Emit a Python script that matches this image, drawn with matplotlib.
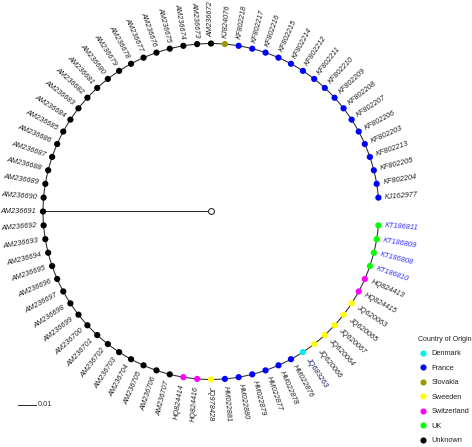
import numpy as np
import matplotlib
matplotlib.use("Agg")
import matplotlib.pyplot as plt
from matplotlib.lines import Line2D

plt.rcParams['font.family'] = ['Liberation Sans', 'DejaVu Sans']

# Tips in tree order (counter-clockwise, starting just above the gap on the right)
tips = (["KJ162977", "KF802204", "KF802205", "KF802213", "KF802203", "KF802206",
         "KF802207", "KF802208", "KF802209", "KF802210", "KF802211", "KF802212",
         "KF802214", "KF802215", "KF802216", "KF802217", "KF802218", "KJ824076"]
        + ["AM2366%02d" % n for n in range(72, 100)]
        + ["AM2367%02d" % n for n in range(0, 8)]
        + ["HQ824414", "HQ824416", "JQ978428", "HM022881", "HM022880", "HM022879",
           "HM022877", "HM022878", "HM022876", "JQ683263", "JQ620066", "JQ620064",
           "JQ620067", "JQ620065", "JQ620063", "HQ824415", "HQ824413", "KT186810",
           "KT186808", "KT186809", "KT186811"])

country_runs = [("France", 17), ("Slovakia", 1), ("Unknown", 36),
                ("Switzerland", 2), ("Sweeden", 1), ("France", 6), ("Denmark", 1),
                ("Sweeden", 5), ("Switzerland", 2), ("UK", 4)]
countries = [c for c, n in country_runs for _ in range(n)]

# branch lengths (substitutions/site)
root_branch = 0.0949
tip_branch = [0.0] * len(tips)

legend_order = ["Denmark", "France", "Slovakia", "Sweeden", "Switzerland", "UK", "Unknown"]
palette = {"Denmark": "#00EEEE", "France": "#0000FF", "Slovakia": "#999900",
           "Sweeden": "#FFFF00", "Switzerland": "#FF00FF", "UK": "#00FF00",
           "Unknown": "#000000"}
label_colors = {"KT186810": "#3333FF", "KT186808": "#3333FF", "KT186809": "#3333FF",
                "KT186811": "#3333FF", "JQ683263": "#1c1c66"}

W, H, DPI = 472, 447, 100
fig = plt.figure(figsize=(W / DPI, H / DPI), dpi=DPI)
ax = fig.add_axes([0, 0, 1, 1])
u = 0.01 / 17.7  # data units per pixel
cx, cy = 211, 211.5
ax.set_xlim(-cx * u, (W - cx) * u)
ax.set_ylim(-(H - cy) * u, cy * u)
ax.axis('off')

n = len(tips)
slots = n + 1
ydx = np.arange(1, n + 1)
theta = np.deg2rad(360.0 * ydx / slots)
r_tip = root_branch + np.array(tip_branch)

lc = '#2a2a2a'
lw = 0.75
# root branch
theta_node = np.deg2rad(360.0 * ydx.mean() / slots)
ax.plot([0, root_branch * np.cos(theta_node)], [0, root_branch * np.sin(theta_node)],
        color=lc, lw=lw, zorder=1)
# arc
arc = np.linspace(theta[0], theta[-1], 600)
ax.plot(root_branch * np.cos(arc), root_branch * np.sin(arc), color=lc, lw=lw, zorder=1)
# root node
ax.scatter([0], [0], s=18, facecolor='white', edgecolor='#333333', linewidth=0.8, zorder=3)

# tips
xs = r_tip * np.cos(theta)
ys = r_tip * np.sin(theta)
ax.scatter(xs, ys, s=20, c=[palette[c] for c in countries], linewidths=0, zorder=3)

off = 0.0038
for name, t, r in zip(tips, theta, r_tip):
    deg = np.rad2deg(t)
    lx, ly = (r + off) * np.cos(t), (r + off) * np.sin(t)
    if 90 < deg < 270:
        rot, ha = deg + 180, 'right'
    else:
        rot, ha = deg, 'left'
    ax.text(lx, ly, name, rotation=rot, rotation_mode='anchor', ha=ha, va='center',
            fontsize=5.3, fontstyle='italic', color=label_colors.get(name, '#222222'))

# scale bar
sx, sy = (18 - cx) * u, (cy - 405) * u
ax.plot([sx, sx + 0.01], [sy, sy], color='#333333', lw=0.75)
ax.text(sx + 0.01 + 2 * u, sy, "0.01", fontsize=5.3, va='center', ha='left', color='#333333')

handles = [Line2D([0], [0], marker='o', linestyle='none', markersize=4.4,
                  markerfacecolor=palette[c], markeredgewidth=0, label=c)
           for c in legend_order]
leg = fig.legend(handles=handles, title="Country of Origin", loc='upper left',
                 bbox_to_anchor=(412 / W, 1 - 330 / H), frameon=False,
                 fontsize=5.3, title_fontsize=5.0, labelspacing=1.0,
                 handletextpad=0.6, handlelength=1.3, borderpad=0.3)
leg._legend_box.align = "left"
leg.get_title().set_color('#222222')
for t in leg.get_texts():
    t.set_color('#222222')

fig.savefig("out.png", dpi=DPI)
